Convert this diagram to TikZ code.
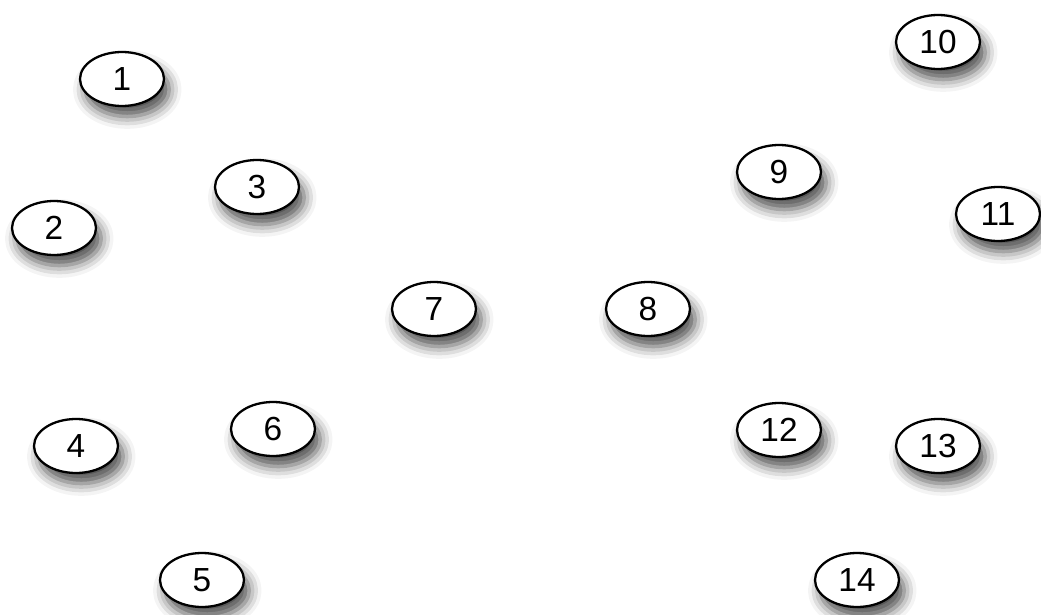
\documentclass[tikz,border=0pt]{standalone}
\usepackage{fontspec}
\setmainfont{Liberation Sans}
\usetikzlibrary{shapes.geometric,shadows.blur}

\begin{document}
\begin{tikzpicture}[x=0.02cm,y=-0.02cm,
  vertex/.style={ellipse,draw,line width=1.3pt,fill=white,
    minimum width=1.68cm,minimum height=1.08cm,inner sep=0pt,
    font=\fontsize{19}{19}\selectfont,
    blur shadow={shadow xshift=3pt,shadow yshift=-6pt,
      shadow blur radius=7pt,shadow opacity=70}}]
  \useasboundingbox (0,0) rectangle (1041,615);
  \node[vertex] (n1) at (122,79) {1};
  \node[vertex] (n2) at (54,228) {2};
  \node[vertex] (n3) at (257,187) {3};
  \node[vertex] (n4) at (76,446) {4};
  \node[vertex] (n5) at (202,580) {5};
  \node[vertex] (n6) at (273,429) {6};
  \node[vertex] (n7) at (434,309) {7};
  \node[vertex] (n8) at (648,309) {8};
  \node[vertex] (n9) at (779,172) {9};
  \node[vertex] (n10) at (938,42) {10};
  \node[vertex] (n11) at (998,214) {11};
  \node[vertex] (n12) at (779,430) {12};
  \node[vertex] (n13) at (938,446) {13};
  \node[vertex] (n14) at (857,580) {14};
\end{tikzpicture}
\end{document}
